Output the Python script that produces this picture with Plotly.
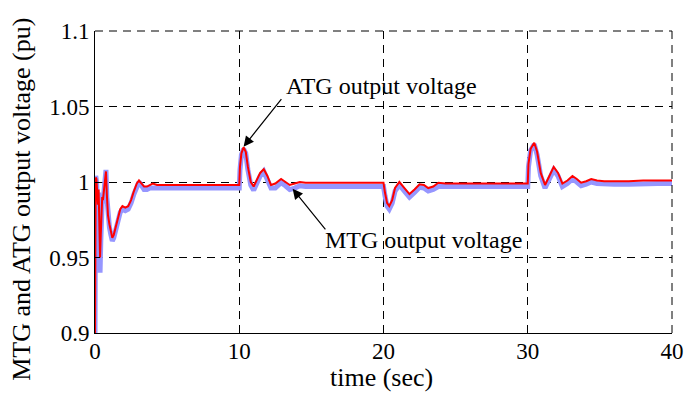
import plotly.graph_objects as go

# ---- data ----
t_atg = [0, 0.01, 0.05, 0.1, 0.15, 0.2, 0.25, 0.3, 0.35, 0.4, 0.45, 0.5, 0.55, 0.6, 0.65, 0.7, 0.76, 0.82, 0.9, 1.0,
         1.1, 1.2, 1.3, 1.45, 1.6, 1.75, 1.9, 2.1, 2.3, 2.5, 2.7, 2.9, 3.05, 3.2, 3.4, 3.6, 3.8, 4.0, 4.3, 4.6,
         5.0, 6.0, 7.0, 8.0, 9.0, 9.99,
         10.0, 10.05, 10.15, 10.3, 10.45, 10.6, 10.8, 11.0, 11.2, 11.45, 11.7, 11.95, 12.2, 12.5, 12.9, 13.2, 13.5,
         13.85, 14.2, 14.6, 15.0, 16, 17, 18, 19, 19.99,
         20.0, 20.1, 20.25, 20.4, 20.6, 20.8, 21.1, 21.45, 21.8, 22.15, 22.5, 22.8, 23.1, 23.45, 23.8, 24.3, 25, 26,
         27, 28, 29, 29.99,
         30.0, 30.05, 30.2, 30.45, 30.65, 30.9, 31.2, 31.5, 31.8, 32.1, 32.4, 32.75, 33.1, 33.4, 33.7, 34.05, 34.4,
         34.8, 35.3, 36, 37, 38, 39, 40]

atg = [0.900, 0.985, 1.003, 1.002, 0.990, 0.985, 0.995, 0.975, 0.950, 0.965, 0.985, 0.990, 0.988, 0.992, 0.998,
       1.004, 1.007, 0.992, 0.978, 0.972, 0.967, 0.963, 0.965, 0.971, 0.977, 0.982, 0.984, 0.983, 0.984, 0.988,
       0.994, 0.999, 1.001, 0.999, 0.997, 0.997, 0.998, 0.999, 0.998, 0.998, 0.998, 0.998, 0.998, 0.998, 0.998,
       0.998,
       0.998, 1.010, 1.019, 1.023, 1.020, 1.010, 1.000, 0.997, 1.001, 1.006, 1.0085, 1.004, 0.998, 0.999, 1.002,
       1.000, 0.998, 0.999, 1.000, 0.9995, 0.9995, 0.9995, 0.9995, 0.9995, 0.9995, 0.9995,
       0.9995, 0.993, 0.986, 0.984, 0.988, 0.996, 1.000, 0.996, 0.992, 0.995, 0.9985, 0.998, 0.996, 0.997, 0.9995,
       0.999, 0.999, 0.999, 0.999, 0.999, 0.999, 0.999,
       0.999, 1.012, 1.022, 1.026, 1.020, 1.006, 0.998, 1.004, 1.010, 1.006, 0.999, 1.001, 1.004, 1.002, 0.9995,
       1.0005, 1.002, 1.001, 1.0005, 1.0005, 1.0005, 1.001, 1.001, 1.001]

t_mtg = t_atg
mtg = [0.900, 0.980, 1.004, 1.001, 0.988, 0.982, 0.993, 0.970, 0.940, 0.960, 0.983, 0.988, 0.986, 0.990, 0.996,
       1.003, 1.008, 0.990, 0.976, 0.970, 0.965, 0.961, 0.963, 0.969, 0.975, 0.980, 0.982, 0.981, 0.982, 0.986,
       0.992, 0.998, 1.000, 0.998, 0.995, 0.995, 0.996, 0.996, 0.996, 0.996, 0.996, 0.996, 0.996, 0.996, 0.996,
       0.996,
       0.996, 1.008, 1.018, 1.022, 1.019, 1.008, 0.998, 0.9945, 0.999, 1.004, 1.007, 1.002, 0.996, 0.996, 0.9995,
       0.9975, 0.995, 0.996, 0.9975, 0.997, 0.997, 0.997, 0.997, 0.997, 0.997, 0.997,
       0.997, 0.991, 0.984, 0.982, 0.986, 0.994, 0.998, 0.994, 0.990, 0.993, 0.9965, 0.996, 0.994, 0.995, 0.997,
       0.997, 0.997, 0.997, 0.997, 0.997, 0.997, 0.997,
       0.997, 1.010, 1.021, 1.025, 1.018, 1.004, 0.996, 1.002, 1.008, 1.004, 0.997, 0.999, 1.002, 1.000, 0.9975,
       0.9985, 1.000, 0.999, 0.9985, 0.9985, 0.9985, 0.999, 0.999, 0.999]

x_ticks = [0, 10, 20, 30, 40]
y_ticks = [0.9, 0.95, 1.0, 1.05, 1.1]
y_tick_text = ["0.9", "0.95", "1", "1.05", "1.1"]
x_title = "time (sec)"
y_title = "MTG and ATG output voltage (pu)"

FONT = "Liberation Serif, Times New Roman, serif"
DASH = "8px,6px"

fig = go.Figure()
fig.add_trace(go.Scatter(x=t_mtg, y=mtg, mode="lines", name="MTG",
                         line=dict(color="rgb(150,150,255)", width=5)))
fig.add_trace(go.Scatter(x=t_atg, y=atg, mode="lines", name="ATG",
                         line=dict(color="rgb(255,0,0)", width=2)))

fig.update_layout(
    template="none",
    width=685, height=394,
    margin=dict(l=95, r=13, t=31, b=61, pad=0),
    paper_bgcolor="white", plot_bgcolor="white",
    showlegend=False,
    font=dict(family=FONT, color="black", size=23),
)
fig.update_xaxes(
    range=[0, 40], tickvals=x_ticks, ticktext=[str(v) for v in x_ticks],
    automargin=False, ticklabelstandoff=-3,
    showgrid=True, gridcolor="black", griddash=DASH, gridwidth=1,
    showline=True, linecolor="black", linewidth=1,
    ticks="inside", ticklen=5, tickcolor="black",
    zeroline=False, tickfont=dict(size=23, family=FONT),
)
fig.update_yaxes(
    range=[0.9, 1.1], tickvals=y_ticks, ticktext=y_tick_text,
    automargin=False,
    showgrid=True, gridcolor="black", griddash=DASH, gridwidth=1,
    showline=True, linecolor="black", linewidth=1,
    ticks="inside", ticklen=5, tickcolor="black",
    zeroline=False, tickfont=dict(size=23, family=FONT),
)

# axis titles as text annotations so they sit where the reference has them
fig.add_annotation(x=0.4965, y=-0.147, xref="paper", yref="paper", text=x_title, showarrow=False,
                   xanchor="center", yanchor="middle", font=dict(size=26, family=FONT))
fig.add_annotation(x=-0.1265, y=0.441, xref="paper", yref="paper", text=y_title, showarrow=False,
                   textangle=-90, xanchor="center", yanchor="middle", font=dict(size=26, family=FONT))

# dashed top and right frame lines (MATLAB-style grid at range ends)
fig.add_shape(type="line", xref="paper", yref="paper", x0=0, x1=1, y0=1, y1=1,
              line=dict(color="black", width=1, dash=DASH))
fig.add_shape(type="line", xref="paper", yref="paper", x0=1, x1=1, y0=0, y1=1,
              line=dict(color="black", width=1, dash=DASH))

# text labels
fig.add_annotation(x=19.86, y=1.0636, text="ATG output voltage", showarrow=False,
                   font=dict(size=24, family=FONT))
fig.add_annotation(x=22.77, y=0.9616, text="MTG output voltage", showarrow=False,
                   font=dict(size=24, family=FONT))
# arrows
fig.add_annotation(x=10.3, y=1.0234, text="", showarrow=True, ax=39, ay=-49,
                   arrowhead=2, arrowsize=1.7, arrowwidth=1.2, arrowcolor="black")
fig.add_annotation(x=13.7, y=0.9955, text="", showarrow=True, ax=34, ay=42,
                   arrowhead=2, arrowsize=1.7, arrowwidth=1.2, arrowcolor="black")

fig.write_html("out.html")
